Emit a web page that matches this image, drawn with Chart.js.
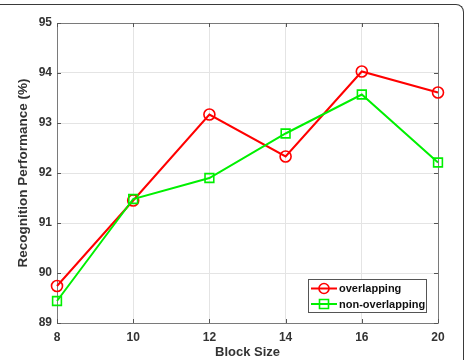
<!DOCTYPE html>
<html><head><meta charset="utf-8">
<script src="https://cdn.jsdelivr.net/npm/chart.js@4/dist/chart.umd.min.js"></script>
<style>
html,body{margin:0;padding:0;background:#fff;}
#wrap{position:relative;width:466px;height:360px;overflow:hidden;}
#frame{position:absolute;left:-10px;top:4px;width:474px;height:400px;border-top:1.5px solid #3a3a3a;border-right:1.5px solid #3a3a3a;border-top-right-radius:8px;box-sizing:border-box;}
canvas{position:absolute;left:0;top:0;}
</style></head>
<body><div id="wrap"><div id="frame"></div><canvas id="c" width="466" height="360"></canvas></div>
<script>
const blockSizes = ['8','10','12','14','16','20'];
const overlapping = [89.74, 91.45, 93.17, 92.33, 94.03, 93.61];
const nonOverlapping = [89.44, 91.48, 91.90, 92.79, 93.57, 92.21];
const yMin = 89, yMax = 95;
const seriesNames = ['overlapping', 'non-overlapping'];

const boxPlugin = {
  id: 'boxPlugin',
  beforeDatasetsDraw(chart) {
    const {ctx, chartArea: a, scales} = chart;
    ctx.save();
    ctx.strokeStyle = '#7a7a7a';
    ctx.lineWidth = 1;
    ctx.beginPath();
    ctx.rect(Math.round(a.left)+0.5, Math.round(a.top)+0.5, Math.round(a.right-a.left), Math.round(a.bottom-a.top));
    ctx.stroke();
    const tl = 4;
    ctx.strokeStyle = '#555';
    ctx.beginPath();
    scales.x.ticks.forEach((t, i) => {
      const x = Math.round(scales.x.getPixelForTick(i)) + 0.5;
      ctx.moveTo(x, a.top); ctx.lineTo(x, a.top + tl);
      ctx.moveTo(x, a.bottom); ctx.lineTo(x, a.bottom - tl);
    });
    scales.y.ticks.forEach((t, i) => {
      const y = Math.round(scales.y.getPixelForTick(i)) + 0.5;
      ctx.moveTo(a.left, y); ctx.lineTo(a.left + tl, y);
      ctx.moveTo(a.right, y); ctx.lineTo(a.right - tl, y);
    });
    ctx.stroke();
    ctx.restore();
  },
  afterDraw(chart) {
    const {ctx, chartArea: a} = chart;
    const w = 118, h = 33;
    const x0 = Math.round(a.right - 12 - w), y0 = Math.round(a.bottom - 11 - h);
    ctx.save();
    ctx.fillStyle = '#fff';
    ctx.fillRect(x0, y0, w, h);
    ctx.strokeStyle = '#555';
    ctx.lineWidth = 1;
    ctx.strokeRect(x0 + 0.5, y0 + 0.5, w, h);
    const rows = [y0 + 9.5, y0 + 25];
    chart.data.datasets.forEach((ds, i) => {
      const y = rows[i];
      const lx0 = x0 + 3, lx1 = x0 + 29, cx = (lx0 + lx1) / 2;
      ctx.strokeStyle = ds.borderColor;
      ctx.lineWidth = 2;
      ctx.beginPath(); ctx.moveTo(lx0, y); ctx.lineTo(lx1, y); ctx.stroke();
      ctx.lineWidth = 1.6;
      ctx.beginPath();
      if (ds.pointStyle === 'circle') ctx.arc(cx, y, 5, 0, Math.PI * 2);
      else ctx.rect(cx - 4.5, y - 4.5, 9, 9);
      ctx.stroke();
      ctx.fillStyle = '#111';
      ctx.font = 'bold 11px "Liberation Sans", Arial, sans-serif';
      ctx.textBaseline = 'middle';
      ctx.textAlign = 'left';
      ctx.fillText(ds.label, x0 + 31, y + 0.5);
    });
    ctx.restore();
  }
};

const tickFont = {family: '"Liberation Sans", Arial, sans-serif', size: 12, weight: 'bold'};

new Chart(document.getElementById('c'), {
  type: 'line',
  data: {
    labels: blockSizes,
    datasets: [
      {label: seriesNames[0], data: overlapping, borderColor: '#ff0000', backgroundColor: 'rgba(0,0,0,0)',
       borderWidth: 2, pointStyle: 'circle', pointRadius: 5.5, pointBorderWidth: 1.6,
       pointBackgroundColor: 'rgba(0,0,0,0)', tension: 0, order: 1},
      {label: seriesNames[1], data: nonOverlapping, borderColor: '#00f000', backgroundColor: 'rgba(0,0,0,0)',
       borderWidth: 2, pointStyle: 'rect', pointRadius: 6.2, pointBorderWidth: 1.6,
       pointBackgroundColor: 'rgba(0,0,0,0)', tension: 0, order: 0}
    ]
  },
  options: {
    responsive: false,
    animation: false,
    devicePixelRatio: 1,
    layout: {padding: {left: 0, right: 28, top: 23, bottom: 0}},
    plugins: {legend: {display: false}, tooltip: {enabled: false}},
    scales: {
      x: {
        type: 'category', offset: false,
        grid: {color: '#e4e4e4', drawTicks: false},
        border: {display: false},
        ticks: {padding: 7, font: tickFont, color: '#333', maxRotation: 0},
        title: {display: true, text: 'Block Size', color: '#333',
                font: {family: '"Liberation Sans", Arial, sans-serif', size: 13, weight: 'bold'},
                padding: {top: 0, bottom: 0}},
        afterFit(s) { s.height = 37; }
      },
      y: {
        min: yMin, max: yMax,
        grid: {color: '#e4e4e4', drawTicks: false},
        border: {display: false},
        ticks: {stepSize: 1, padding: 5, font: tickFont, color: '#333'},
        title: {display: true, text: 'Recognition Performance (%)', color: '#333',
                font: {family: '"Liberation Sans", Arial, sans-serif', size: 13.5, weight: 'bold'},
                padding: {top: 15, bottom: 0}},
        afterFit(s) { s.width = 57; }
      }
    }
  },
  plugins: [boxPlugin]
});
</script>
</body></html>
